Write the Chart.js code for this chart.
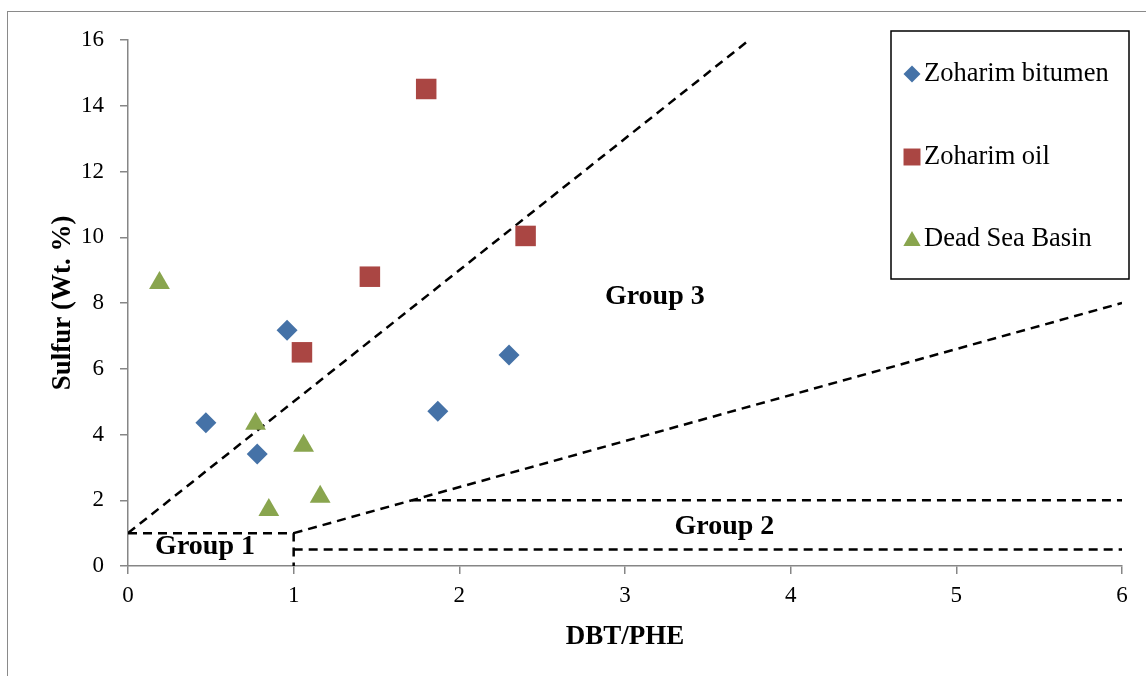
<!DOCTYPE html>
<html>
<head>
<meta charset="utf-8">
<title>Sulfur vs DBT/PHE</title>
<script src="https://cdn.jsdelivr.net/npm/chart.js@4.4.0/dist/chart.umd.min.js"></script>
<style>
    html, body { margin: 0; padding: 0; background: #fff; overflow: hidden; }
    #frame { position: absolute; left: 7px; top: 11px; width: 1300px; height: 800px; border: 1px solid #8a8a8a; }
    #sulfurChart { position: absolute; left: 0; top: 0; }
</style>
</head>
<body>
<div id="frame"></div>
<canvas id="sulfurChart" width="1146" height="676"></canvas>
<script>
// Sample values (x = DBT/PHE, y = sulfur wt. %)
const bitumenX = [0.47, 0.78, 0.96, 1.87, 2.30];
const bitumenY = [4.36, 3.41, 7.17, 4.71, 6.42];
const oilX = [1.05, 1.46, 1.80, 2.40];
const oilY = [6.50, 8.80, 14.51, 10.04];
const deadSeaX = [0.19, 0.77, 0.85, 1.06, 1.16];
const deadSeaY = [8.61, 4.33, 1.70, 3.66, 2.11];

const seriesNames = ['Zoharim bitumen', 'Zoharim oil', 'Dead Sea Basin'];

// Group boundary lines
const upperLineX = [0, 3.75];
const upperLineY = [1, 16];
const group1LineX = [0, 1, 1];
const group1LineY = [1, 1, 0];
const lowerLineX = [1, 6];
const lowerLineY = [1, 8];
const twoPctLineX = [1.714, 6];
const twoPctLineY = [2, 2];
const halfPctLineX = [1, 6];
const halfPctLineY = [0.5, 0.5];

// Group labels
const groupNames = ['Group 1', 'Group 2', 'Group 3'];
const groupX = [0.465, 3.60, 3.18];
const groupY = [0.57, 1.19, 8.18];

const xTicks = [0, 1, 2, 3, 4, 5, 6];
const yTicks = [0, 2, 4, 6, 8, 10, 12, 14, 16];

const serif = "'Liberation Serif', 'Times New Roman', serif";
const axisGray = '#868686';

function toPoints(xs, ys) {
    return xs.map((x, i) => ({ x: x, y: ys[i] }));
}

function boundary(xs, ys) {
    return {
        data: toPoints(xs, ys),
        showLine: true,
        borderColor: '#000',
        borderWidth: 2.5,
        borderDash: [9, 6],
        pointRadius: 0,
        fill: false,
        order: 2
    };
}

const markerStyles = [
    { pointStyle: 'rectRot', color: '#4572A7', radius: 10.5, legendRadius: 8.5 },
    { pointStyle: 'rect', color: '#AA4643', radius: 14.5, legendRadius: 12 },
    { pointStyle: 'triangle', color: '#89A54E', radius: 12, legendRadius: 10 }
];

function series(i, xs, ys) {
    const m = markerStyles[i];
    return {
        label: seriesNames[i],
        data: toPoints(xs, ys),
        pointStyle: m.pointStyle,
        pointRadius: m.radius,
        pointBackgroundColor: m.color,
        pointBorderColor: m.color,
        pointBorderWidth: 0,
        showLine: false,
        order: 1
    };
}

// Bold group captions placed in data coordinates
const groupLabelPlugin = {
    id: 'groupLabels',
    afterDatasetsDraw(chart) {
        const ctx = chart.ctx;
        const xs = chart.scales.x, ys = chart.scales.y;
        ctx.save();
        ctx.font = 'bold 28px ' + serif;
        ctx.fillStyle = '#000';
        ctx.textAlign = 'center';
        ctx.textBaseline = 'middle';
        groupNames.forEach((name, i) => {
            ctx.fillText(name, xs.getPixelForValue(groupX[i]), ys.getPixelForValue(groupY[i]));
        });
        ctx.restore();
    }
};

// Boxed legend in the upper right corner
const boxLegendPlugin = {
    id: 'boxLegend',
    afterDraw(chart) {
        const ctx = chart.ctx;
        const box = { left: 891, top: 31, width: 238, height: 248 };
        const rowY = [74, 157, 239];
        ctx.save();
        ctx.fillStyle = '#fff';
        ctx.fillRect(box.left, box.top, box.width, box.height);
        ctx.strokeStyle = '#000';
        ctx.lineWidth = 1.5;
        ctx.strokeRect(box.left, box.top, box.width, box.height);
        ctx.font = '26.5px ' + serif;
        ctx.textAlign = 'left';
        ctx.textBaseline = 'middle';
        seriesNames.forEach((name, i) => {
            const m = markerStyles[i];
            ctx.fillStyle = m.color;
            ctx.strokeStyle = m.color;
            Chart.helpers.drawPoint(ctx, {
                pointStyle: m.pointStyle,
                radius: m.legendRadius,
                rotation: 0,
                borderWidth: 0
            }, box.left + 21, rowY[i] + (m.pointStyle === 'triangle' ? 2 : 0));
            ctx.fillStyle = '#000';
            ctx.fillText(name, box.left + 33, rowY[i]);
        });
        ctx.restore();
    }
};

document.addEventListener('DOMContentLoaded', function() {
    const ctx = document.getElementById('sulfurChart');
    new Chart(ctx, {
        type: 'scatter',
        data: {
            datasets: [
                series(0, bitumenX, bitumenY),
                series(1, oilX, oilY),
                series(2, deadSeaX, deadSeaY),
                boundary(upperLineX, upperLineY),
                boundary(group1LineX, group1LineY),
                boundary(lowerLineX, lowerLineY),
                boundary(twoPctLineX, twoPctLineY),
                boundary(halfPctLineX, halfPctLineY)
            ]
        },
        options: {
            responsive: false,
            animation: false,
            layout: { padding: { top: 40, right: 24, left: 0, bottom: 0 } },
            plugins: {
                legend: { display: false },
                tooltip: { enabled: false }
            },
            scales: {
                x: {
                    type: 'linear',
                    min: 0,
                    max: 6,
                    afterBuildTicks(scale) { scale.ticks = xTicks.map(v => ({ value: v })); },
                    afterFit(scale) { scale.height = 110; },
                    ticks: { color: '#000', font: { family: serif, size: 23 }, padding: 8 },
                    grid: { drawOnChartArea: false, color: axisGray, lineWidth: 1.5, tickLength: 8 },
                    border: { color: axisGray, width: 1.5 },
                    title: {
                        display: true,
                        text: 'DBT/PHE',
                        color: '#000',
                        font: { family: serif, size: 27, weight: 'bold' },
                        padding: { top: 0, bottom: 23 }
                    }
                },
                y: {
                    type: 'linear',
                    min: 0,
                    max: 16,
                    afterBuildTicks(scale) { scale.ticks = yTicks.map(v => ({ value: v })); },
                    afterFit(scale) { scale.width = 128; },
                    ticks: { color: '#000', font: { family: serif, size: 23 }, padding: 16 },
                    grid: { drawOnChartArea: false, color: axisGray, lineWidth: 1.5, tickLength: 8 },
                    border: { color: axisGray, width: 1.5 },
                    title: {
                        display: true,
                        text: 'Sulfur (Wt. %)',
                        color: '#000',
                        font: { family: serif, size: 27, weight: 'bold' },
                        padding: { top: 47, bottom: 0 }
                    }
                }
            }
        },
        plugins: [groupLabelPlugin, boxLegendPlugin]
    });
});
</script>
</body>
</html>
